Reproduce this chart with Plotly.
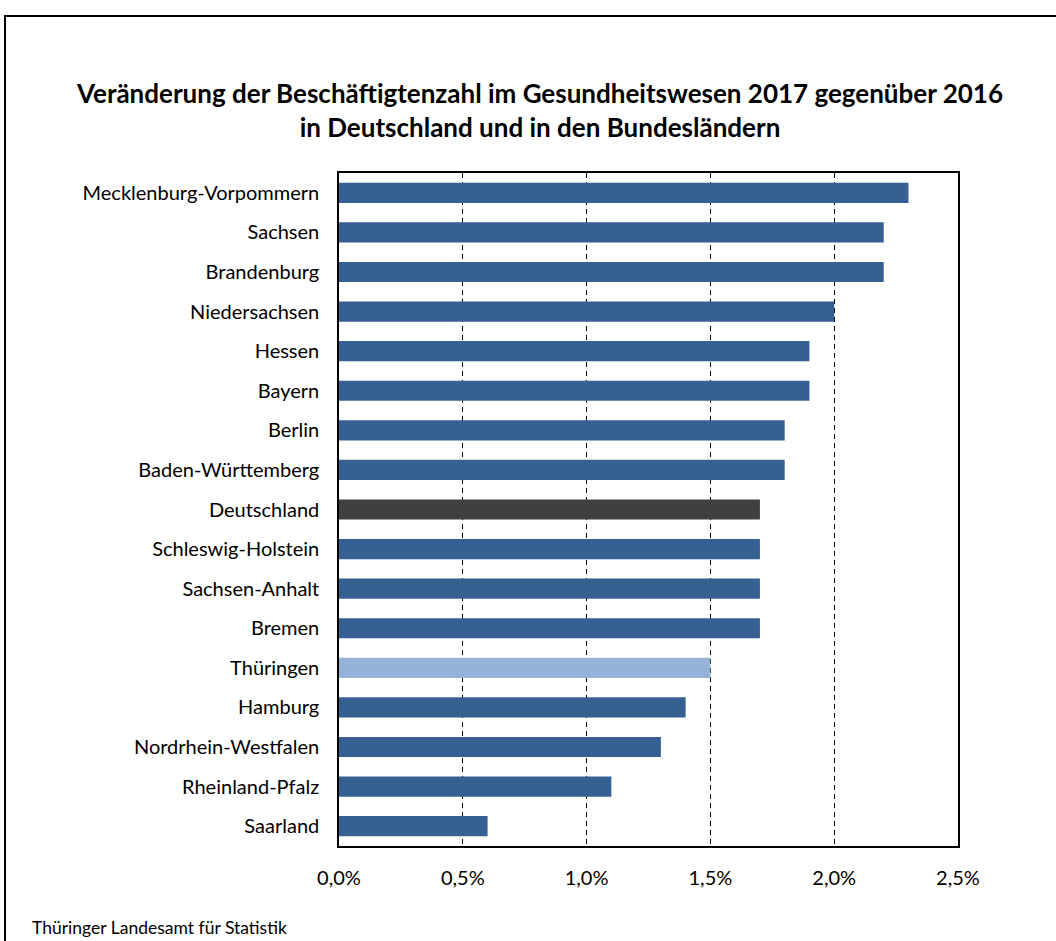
import plotly.graph_objects as go

laender = ["Mecklenburg-Vorpommern", "Sachsen", "Brandenburg", "Niedersachsen", "Hessen",
           "Bayern", "Berlin", "Baden-Württemberg", "Deutschland", "Schleswig-Holstein",
           "Sachsen-Anhalt", "Bremen", "Thüringen", "Hamburg", "Nordrhein-Westfalen",
           "Rheinland-Pfalz", "Saarland"]
werte = [2.3, 2.2, 2.2, 2.0, 1.9, 1.9, 1.8, 1.8, 1.7, 1.7, 1.7, 1.7, 1.5, 1.4, 1.3, 1.1, 0.6]
x_ticks = [0, 0.5, 1.0, 1.5, 2.0, 2.5]
x_ticklabels = ["0,0%", "0,5%", "1,0%", "1,5%", "2,0%", "2,5%"]

def farbe(name):
    if name == "Deutschland":
        return "#404040"
    if name == "Thüringen":
        return "#95B3D7"
    return "#376092"

colors = [farbe(n) for n in laender]

FONT = "Lato"
W, H = 1056, 941
L, R, T, B = 339, 98, 173, 95
PW, PH = W - L - R, H - T - B

fig = go.Figure(go.Bar(
    y=laender, x=werte, orientation="h",
    marker=dict(color=colors, line=dict(width=0)),
    width=0.51,
))

fig.update_layout(
    width=W, height=H,
    paper_bgcolor="white", plot_bgcolor="white",
    margin=dict(l=L, r=R, t=T, b=B),
    font=dict(family=FONT, size=20, color="#000000"),
    title=dict(
        text="<b>Veränderung der Beschäftigtenzahl im Gesundheitswesen 2017 gegenüber 2016<br>in Deutschland und in den Bundesländern</b>",
        x=540 / W, xanchor="center", y=1 - 103 / H, yanchor="middle",
        font=dict(family=FONT, size=26, color="#000000"),
    ),
    showlegend=False,
    xaxis=dict(
        range=[0, 2.5], tickvals=x_ticks, ticktext=x_ticklabels,
        showgrid=True, gridcolor="#000000", griddash="5px,4px", gridwidth=1,
        zeroline=False, showline=True, linecolor="#000000", linewidth=1.5, mirror=True,
        ticks="", ticklabelstandoff=13,
        tickfont=dict(family=FONT, size=20),
    ),
    yaxis=dict(
        autorange="reversed", showgrid=False, zeroline=False,
        showline=True, linecolor="#000000", linewidth=1.5, mirror=True,
        ticks="", ticklabelstandoff=14,
        tickfont=dict(family=FONT, size=20),
    ),
    shapes=[dict(type="rect", xref="paper", yref="paper",
                 x0=(5 - L) / PW, x1=(W + 10 - L) / PW,
                 y0=-(B + 10) / PH, y1=(H - B - 16) / PH,
                 line=dict(color="#000000", width=2), fillcolor="rgba(0,0,0,0)", layer="above")],
    annotations=[dict(text="Thüringer Landesamt für Statistik", xref="paper", yref="paper",
                      x=(30 - L) / PW, y=-(927 - (H - B)) / PH, xanchor="left", yanchor="middle",
                      showarrow=False, font=dict(family=FONT, size=17.5, color="#000000"))],
)

fig.write_html("out.html", config={"displayModeBar": False},
               post_script="document.body.style.margin='0';document.body.style.overflow='hidden';")
